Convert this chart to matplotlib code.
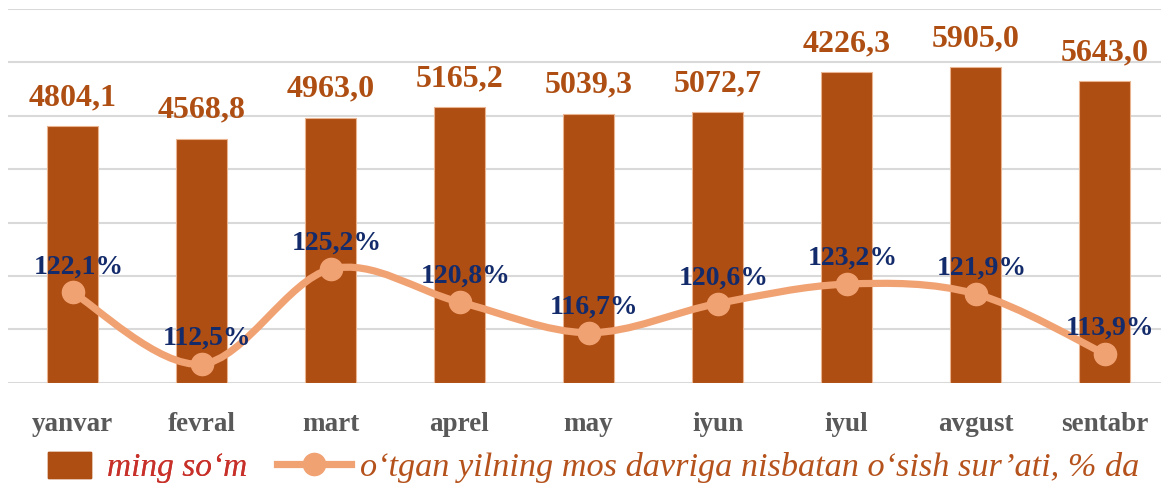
import numpy as np
import matplotlib
matplotlib.use("Agg")
import matplotlib.pyplot as plt
from matplotlib.path import Path
from matplotlib.patches import PathPatch, Patch
from matplotlib.lines import Line2D

# ========== data ==========
months = ["yanvar", "fevral", "mart", "aprel", "may", "iyun", "iyul", "avgust", "sentabr"]
ming_som = [4804.1, 4568.8, 4963.0, 5165.2, 5039.3, 5072.7, 5820.0, 5905.0, 5643.0]
ming_som_labels = ["4804,1", "4568,8", "4963,0", "5165,2", "5039,3", "5072,7", "4226,3", "5905,0", "5643,0"]
growth = [122.1, 112.5, 125.2, 120.8, 116.7, 120.6, 123.2, 121.9, 113.9]
growth_labels = ["122,1%", "112,5%", "125,2%", "120,8%", "116,7%", "120,6%", "123,2%", "121,9%", "113,9%"]

BAR_C = "#AE4E12"
LINE_C = "#F1A273"
NAVY = "#132B6B"
SERIF = "Liberation Serif"

fig = plt.figure(figsize=(11.61, 4.83), dpi=100)
ax = fig.add_axes([8 / 1161, 1 - 382.8 / 483, 1161 / 1161, 373.8 / 483])
x = np.arange(len(months))

# ========== bars ==========
ax.bar(x, ming_som, width=0.4, color=BAR_C, edgecolor="#E9B48F", linewidth=0.8, zorder=2)
for xi, v, lab in zip(x, ming_som, ming_som_labels):
    ax.annotate(lab, (xi, v), xytext=(0, 14), textcoords="offset pixels",
                ha="center", va="bottom", fontsize=23, fontweight="bold",
                family=SERIF, color=BAR_C, zorder=5)

ax.set_xlim(-0.5, len(months) - 0.5)
ax.set_ylim(0, 7000)
ax.set_yticks(np.arange(0, 7001, 1000))
ax.yaxis.grid(True, color="#D9D9D9", linewidth=1.5, zorder=0)
ax.set_axisbelow(True)
ax.set_xticks(x)
ax.set_xticklabels(months, fontsize=19.5, fontweight="bold", family=SERIF, color="#595959")
for s in ax.spines.values():
    s.set_visible(False)

# ========== smooth line (secondary axis) ==========
ax2 = ax.twinx()
ax2.set_ylim(110, 160)
ax2.axis("off")
ax.tick_params(axis="y", left=False, right=False, labelleft=False, labelright=False)
ax.tick_params(axis="x", length=0, pad=21)

pts = np.column_stack([x, growth]).astype(float)
ext = np.vstack([pts[0], pts, pts[-1]])
verts = [tuple(pts[0])]
codes = [Path.MOVETO]
for i in range(len(pts) - 1):
    p0, p1, p2, p3 = ext[i], ext[i + 1], ext[i + 2], ext[i + 3]
    c1 = p1 + (p2 - p0) / 6
    c2 = p2 - (p3 - p1) / 6
    verts += [tuple(c1), tuple(c2), tuple(p2)]
    codes += [Path.CURVE4] * 3
ax2.add_patch(PathPatch(Path(verts, codes), facecolor="none", edgecolor=LINE_C,
                        linewidth=5.2, capstyle="round", zorder=3))
ax2.plot(x, growth, linestyle="none", marker="o", markersize=16,
         color=LINE_C, zorder=4)
for xi, v, lab in zip(x, growth, growth_labels):
    ax2.annotate(lab, (xi, v), xytext=(6, 19), textcoords="offset pixels",
                 ha="center", va="baseline", fontsize=20, fontweight="bold",
                 family=SERIF, color=NAVY, zorder=6)

# ========== legend ==========
h1 = Patch(facecolor=BAR_C, edgecolor=BAR_C)
h2 = Line2D([], [], color=LINE_C, linewidth=5.2, marker="o", markersize=16)
leg1 = fig.legend([h1], ["ming so\u2018m"], loc="center left",
                  bbox_to_anchor=(48 / 1161, 1 - 467.5 / 483), frameon=False,
                  borderpad=0, borderaxespad=0, handlelength=1.3, handleheight=0.85,
                  handletextpad=0.48, prop={"family": SERIF, "style": "italic", "size": 24})
for t in leg1.get_texts():
    t.set_color("#C8312A")
leg2 = fig.legend([h2], ["o\u2018tgan yilning mos davriga nisbatan o\u2018sish sur\u2019ati, % da"],
                  loc="center left", bbox_to_anchor=(277 / 1161, 1 - 467.5 / 483),
                  frameon=False, borderpad=0, borderaxespad=0, handlelength=2.15,
                  handletextpad=0.27, prop={"family": SERIF, "style": "italic", "size": 24.7})
for t in leg2.get_texts():
    t.set_color("#B5521C")
fig.add_artist(leg1)

fig.savefig("out.png", dpi=100)
